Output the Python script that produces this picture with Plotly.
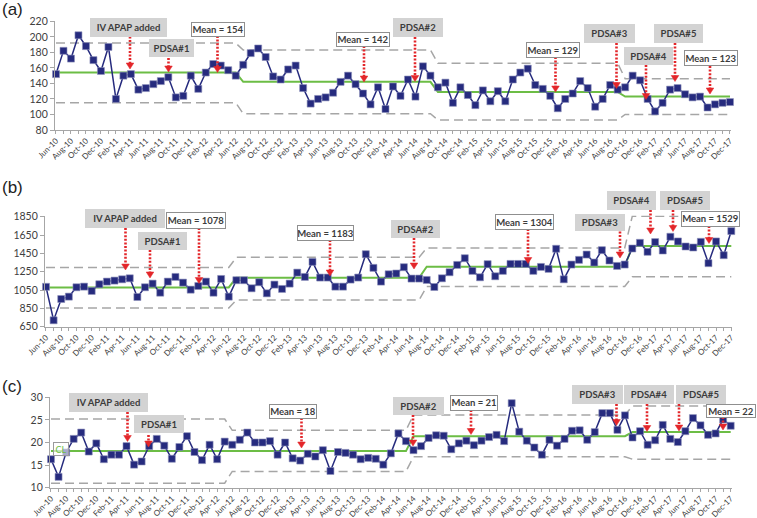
import plotly.graph_objects as go
import pandas as pd

W, H = 757, 518

# ---------------- data ----------------
months = [d.strftime('%b-%y') for d in pd.date_range('2010-06-01', '2017-12-01', freq='MS')]
idx = list(range(len(months)))

a_vals = [152, 182, 172, 202, 188, 170, 156, 187, 120, 150,
          152, 132, 134, 139, 143, 148, 122, 124, 150, 133,
          154, 165, 163, 157, 150, 164, 179, 185, 174, 149,
          145, 158, 163, 134, 114, 120, 122, 128, 142, 150,
          139, 127, 113, 135, 107, 136, 124, 145, 123, 162,
          150, 135, 141, 115, 135, 125, 112, 131, 117, 130,
          117, 145, 154, 159, 138, 133, 124, 108, 120, 127,
          143, 134, 110, 120, 138, 132, 135, 150, 144, 120,
          104, 115, 132, 134, 126, 122, 123, 109, 113, 115, 116]

b_vals = [1085, 720, 952, 978, 1080, 1087, 1040, 1113, 1142, 1153,
          1167, 1178, 974, 1080, 1120, 1021, 1142, 1193, 1131, 1054,
          1094, 1142, 1021, 1171, 978, 1157, 1157, 1069, 1135, 1014,
          1109, 1062, 1120, 1240, 1193, 1357, 1186, 1186, 1087, 1087,
          1164, 1186, 1441, 1292, 1142, 1222, 1230, 1299, 1175, 1175,
          1160, 1083, 1178, 1244, 1324, 1397, 1259, 1189, 1332, 1200,
          1259, 1335, 1335, 1335, 1259, 1302, 1281, 1500, 1167, 1328,
          1379, 1437, 1350, 1485, 1372, 1313, 1328, 1503, 1565, 1467,
          1573, 1481, 1631, 1580, 1525, 1514, 1576, 1343, 1580, 1430, 1693]

c_vals = [16.3, 12.4, 17.8, 20.8, 22.2, 18.0, 19.8, 16.3, 17.3, 17.3,
          19.2, 15.1, 15.8, 19.2, 20.8, 19.3, 16.4, 19.0, 21.4, 17.9,
          16.1, 19.5, 16.3, 20.2, 19.5, 20.6, 22.2, 20.0, 20.0, 20.3,
          17.3, 20.0, 16.5, 16.0, 17.5, 16.9, 18.3, 13.7, 17.9, 17.7,
          17.3, 16.3, 16.6, 16.4, 15.1, 17.6, 22.0, 20.3, 18.3, 19.2,
          21.0, 21.6, 21.5, 18.5, 19.8, 20.4, 19.4, 20.4, 21.2, 21.7,
          20.3, 28.7, 22.4, 20.4, 18.9, 17.3, 20.6, 19.3, 20.8, 22.6,
          22.7, 20.6, 22.3, 26.5, 26.5, 22.8, 26.0, 21.1, 22.5, 19.5,
          20.5, 23.9, 20.8, 20.1, 22.5, 25.4, 23.8, 21.7, 22.0, 25.1, 23.7]

# centre line / control limits (breakpoints in month index)
a_cl_x = [0, 24, 25, 50, 51, 75, 76, 90]
a_cl = [154, 154, 142, 142, 129, 129, 123, 123]
a_ucl = [192, 192, 183, 183, 166, 166, 146, 146]
a_lcl = [115, 115, 101, 101, 93, 93, 100, 100]

b_cl_x = [0, 24, 25, 49, 50, 76, 77, 90]
b_cl = [1078, 1078, 1183, 1183, 1304, 1304, 1529, 1529]
b_ucl = [1295, 1295, 1407, 1407, 1508, 1508, 1856, 1856]
b_lcl = [855, 855, 940, 940, 1088, 1088, 1194, 1194]

c_cl_x = [0, 47, 48, 76, 77, 90]
c_cl = [18.1, 18.1, 21.4, 21.4, 22.3, 22.3]
c_lim_x = [0, 23, 24, 47, 48, 76, 77, 90]
c_ucl = [25.2, 25.2, 22.7, 22.7, 26.1, 26.1, 28.1, 28.1]
c_lcl = [11.0, 11.0, 13.6, 13.6, 16.85, 16.85, 16.3, 16.3]

# ---------------- styling ----------------
NAVY = '#262b7e'
GREEN = '#6cbd45'
GREYD = '#a6a6a6'
RED = '#e3262a'
TXT = '#404040'
FONT = 'Lato, Liberation Sans, Arial'

# panel geometry in pixels: first/last month x, y pixel of range ends
panels = [
    dict(name='(a)', vals=a_vals, clx=a_cl_x, cl=a_cl, limx=a_cl_x, ucl=a_ucl, lcl=a_lcl,
         x0=56, x90=730, y_lo=80, y_hi=220, py_lo=130, py_hi=21.3, dtick=20, r_hi=220, lab=(12, 10)),
    dict(name='(b)', vals=b_vals, clx=b_cl_x, cl=b_cl, limx=b_cl_x, ucl=b_ucl, lcl=b_lcl,
         x0=46, x90=731.3, y_lo=650, y_hi=1850, py_lo=326.7, py_hi=216.7, dtick=200, r_hi=1862, lab=(12, 187)),
    dict(name='(c)', vals=c_vals, clx=c_cl_x, cl=c_cl, limx=c_lim_x, ucl=c_ucl, lcl=c_lcl,
         x0=51, x90=730.7, y_lo=10, y_hi=30, py_lo=487.7, py_hi=397.3, dtick=5, r_hi=30, lab=(12, 386)),
]

fig = go.Figure()
ticktext = [m if i % 2 == 0 else '' for i, m in enumerate(months)]
layout = dict(width=W, height=H, margin=dict(l=0, r=0, t=0, b=0),
              paper_bgcolor='white', plot_bgcolor='white', showlegend=False,
              font=dict(family=FONT, color=TXT))
annotations = []
shapes = []

for k, p in enumerate(panels):
    n = '' if k == 0 else str(k + 1)
    xa, ya = 'x' + n, 'y' + n
    ppu = (p['x90'] - p['x0']) / 90.0
    pad = 0.15
    xl = p['x0'] - pad * ppu
    xr = p['x90'] + pad * ppu
    ppy = (p['py_lo'] - p['py_hi']) / (p['y_hi'] - p['y_lo'])
    top_px = p['py_lo'] - (p['r_hi'] - p['y_lo']) * ppy
    layout['xaxis' + n] = dict(domain=[xl / W, xr / W], range=[-pad, 90 + pad], anchor=ya,
                               tickmode='array', tickvals=idx, ticktext=ticktext, tickangle=-45,
                               ticks='outside', ticklen=3, tickcolor=GREYD, showline=True,
                               linecolor=GREYD, linewidth=1, showgrid=False, zeroline=False,
                               ticklabelstandoff=-1,
                               tickfont=dict(size=8, color=TXT, family=FONT), automargin=False)
    layout['yaxis' + n] = dict(domain=[1 - p['py_lo'] / H, 1 - top_px / H],
                               range=[p['y_lo'], p['r_hi']], anchor=xa,
                               tickmode='linear', tick0=p['y_lo'], dtick=p['dtick'],
                               ticks='outside', ticklen=4, tickcolor=GREYD, showline=True,
                               linecolor=GREYD, linewidth=1, showgrid=False, zeroline=False,
                               tickfont=dict(size=10.5, color=TXT, family=FONT), automargin=False)
    dash = dict(color=GREYD, width=1.5, dash='9px,5px')
    fig.add_trace(go.Scatter(x=p['limx'], y=p['ucl'], mode='lines', line=dash, xaxis=xa, yaxis=ya,
                             hoverinfo='skip'))
    fig.add_trace(go.Scatter(x=p['limx'], y=p['lcl'], mode='lines', line=dash, xaxis=xa, yaxis=ya,
                             hoverinfo='skip'))
    fig.add_trace(go.Scatter(x=p['clx'], y=p['cl'], mode='lines', line=dict(color=GREEN, width=2),
                             xaxis=xa, yaxis=ya))
    fig.add_trace(go.Scatter(x=idx, y=p['vals'], mode='lines+markers',
                             line=dict(color=NAVY, width=1.5),
                             marker=dict(symbol='square', size=7, color=NAVY,
                                         line=dict(color='#8d90bb', width=0.6)),
                             xaxis=xa, yaxis=ya, cliponaxis=False))
    annotations.append(dict(xref='paper', yref='paper', x=p['lab'][0] / W, y=1 - p['lab'][1] / H,
                            text=p['name'], showarrow=False, xanchor='center', yanchor='middle',
                            font=dict(size=17, color='#222222', family='Liberation Sans, Arial')))

# callout boxes: (text, x0, x1, y0, y1, kind) in pixels
boxes = [
    ('IV APAP added', 90, 167, 18, 36.5, 'g'), ('PDSA#1', 149, 194, 39.5, 57.5, 'g'),
    ('Mean = 154', 192, 244, 22.5, 35.5, 'm'), ('Mean = 142', 337, 389, 33, 45.5, 'm'),
    ('PDSA#2', 393, 443, 18, 37, 'g'), ('Mean = 129', 527, 579, 43, 57, 'm'),
    ('PDSA#3', 584, 635, 24, 43, 'g'), ('PDSA#4', 624, 673, 47, 65, 'g'),
    ('PDSA#5', 654, 703, 24, 43, 'g'), ('Mean = 123', 685, 737, 51.5, 65.5, 'm'),

    ('IV APAP added', 85, 165, 209, 228, 'g'), ('PDSA#1', 138, 187, 232, 250, 'g'),
    ('Mean = 1078', 167, 225, 213, 227.5, 'm'), ('Mean = 1183', 298, 353, 226, 240, 'm'),
    ('PDSA#2', 391, 440, 220, 238, 'g'), ('Mean = 1304', 496, 553, 215, 229, 'm'),
    ('PDSA#3', 575, 625, 214, 231, 'g'), ('PDSA#4', 607, 656, 191.5, 210, 'g'),
    ('PDSA#5', 660, 710, 191.5, 210, 'g'), ('Mean = 1529', 682, 739, 212.5, 226, 'm'),

    ('IV APAP added', 69, 148, 393, 412, 'g'), ('PDSA#1', 134, 184, 415, 433, 'g'),
    ('Mean = 18', 270, 316, 405, 418, 'm'), ('PDSA#2', 393, 444, 397, 415, 'g'),
    ('Mean = 21', 451, 497, 396, 409.5, 'm'), ('PDSA#3', 572, 623, 385, 404, 'g'),
    ('PDSA#4', 624, 674, 385, 404, 'g'), ('PDSA#5', 676, 726, 385, 404, 'g'),
    ('Mean = 22', 707, 755, 405, 417, 'm'),
]

# red dotted arrows: (x, y_top, y_tip) in pixels
arrows = [
    (130, 36.5, 69), (168.5, 58, 72), (217.5, 36, 72.5), (364, 46, 82), (415, 37, 81.5),
    (555.5, 57, 92), (616.5, 43, 88.5), (646, 65, 99.5), (675, 43, 81.5), (710, 66, 94),
    (125.5, 228, 270), (150, 250, 278), (199, 228, 283.5), (330, 240, 276), (414, 238, 269),
    (528, 229, 263.5), (620, 231.5, 258), (650.5, 210, 234), (673, 210, 231.5), (709, 226, 243.5),
    (127.5, 412, 441.5), (148.5, 435, 447), (301.5, 418, 448), (413, 415, 446), (471, 410, 434.5),
    (616.5, 404, 425.5), (647, 404, 431.5), (679, 404, 431), (723, 417, 430),
]

def X(v):
    return v / W

def Y(v):
    return 1 - v / H

for (x, yt, yb) in arrows:
    shapes.append(dict(type='line', xref='paper', yref='paper', x0=X(x), x1=X(x),
                       y0=Y(yt), y1=Y(yb - 5), line=dict(color=RED, width=2.6, dash='2px,1.6px'),
                       layer='above'))
    path = 'M {a},{b} L {c},{b} L {d},{e} Z'.format(a=X(x - 3.8), b=Y(yb - 6), c=X(x + 3.8),
                                                   d=X(x), e=Y(yb))
    shapes.append(dict(type='path', xref='paper', yref='paper', path=path,
                       fillcolor=RED, line=dict(color=RED, width=0.5), layer='above'))

for (t, x0, x1, y0, y1, kind) in boxes:
    if kind == 'g':
        st = dict(bgcolor='#d3d3d3', bordercolor='#d3d3d3', borderwidth=0)
    else:
        st = dict(bgcolor='white', bordercolor='#8f8f8f', borderwidth=1)
    annotations.append(dict(xref='paper', yref='paper', x=X((x0 + x1) / 2), y=Y((y0 + y1) / 2),
                            xanchor='center', yanchor='middle', showarrow=False,
                            text='<b>' + t + '</b>', width=x1 - x0, height=y1 - y0, borderpad=0,
                            font=dict(size=9.5, color='#3c3c3c', family=FONT), **st))

# small "CL" data label in panel (c)
annotations.append(dict(xref='paper', yref='paper', x=X(60.5), y=Y(448.5), xanchor='center',
                        yanchor='middle', showarrow=False, text='CL', width=14, height=12,
                        bgcolor='rgba(255,255,255,0.6)', bordercolor='#9a9a9a', borderwidth=1,
                        borderpad=0, font=dict(size=9, color=GREEN, family=FONT)))

layout['annotations'] = annotations
layout['shapes'] = shapes
fig.update_layout(**layout)
fig.write_html('out.html', config={'displayModeBar': False},
               post_script="document.body.style.margin='0';document.body.style.overflow='hidden';")
